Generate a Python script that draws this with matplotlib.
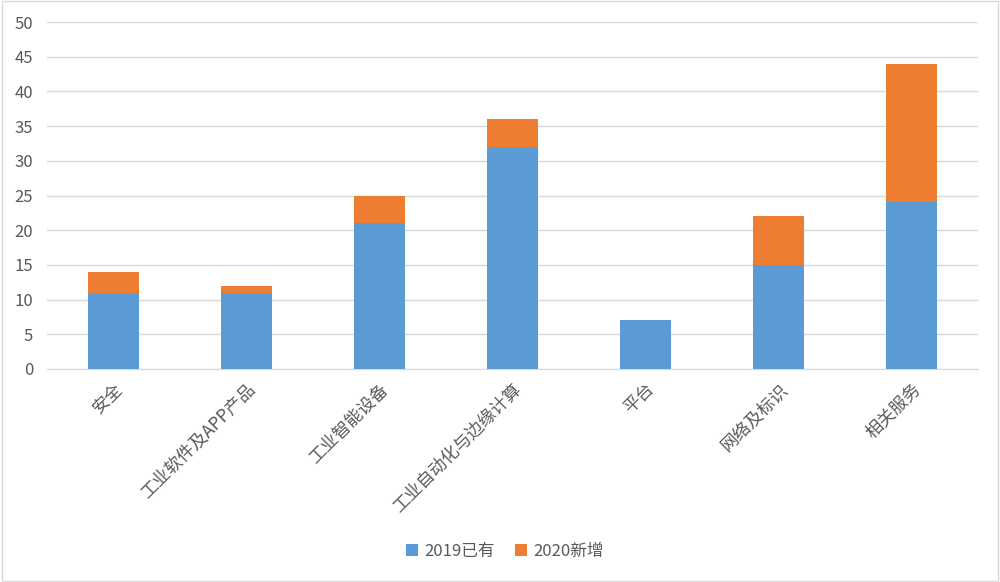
import matplotlib
matplotlib.use("Agg")
import matplotlib.pyplot as plt
from matplotlib.patches import Rectangle

plt.rcParams['font.family'] = ['Noto Sans CJK SC', 'DejaVu Sans']

categories = ["安全", "工业软件及APP产品", "工业智能设备", "工业自动化与边缘计算", "平台", "网络及标识", "相关服务"]
existing_2019 = [11, 11, 21, 32, 7, 15, 24]
new_2020 = [3, 1, 4, 4, 0, 7, 20]
yticks = [0, 5, 10, 15, 20, 25, 30, 35, 40, 45, 50]

fig = plt.figure(figsize=(10, 5.82), dpi=100)
ax = fig.add_axes([0.047, 0.366, 0.931, 0.596])

x = list(range(len(categories)))
w = 0.39
ax.bar(x, existing_2019, width=w, color='#5B9BD5', label='2019已有', zorder=3)
ax.bar(x, new_2020, width=w, bottom=existing_2019, color='#ED7D31', label='2020新增', zorder=3)

ax.set_xlim(-0.5, len(categories) - 0.5)
ax.set_ylim(0, 50)
ax.set_yticks(yticks)
ax.yaxis.grid(True, color='#D9D9D9', linewidth=1, zorder=0)
for s in ['top', 'right', 'left']:
    ax.spines[s].set_visible(False)
ax.spines['bottom'].set_color('#D9D9D9')
ax.tick_params(axis='both', length=0, colors='#595959', labelsize=12)
ax.tick_params(axis='y', pad=10)
ax.set_xticks(x)
ax.set_xticklabels(categories, rotation=45, ha='right', rotation_mode='anchor', fontsize=12.5, color='#595959')
ax.tick_params(axis='x', pad=8)

leg = fig.legend(loc='center', bbox_to_anchor=(0.505, 0.053), ncol=2, frameon=False,
                 fontsize=12, handlelength=0.7, handleheight=0.7, columnspacing=1.2, handletextpad=0.4)
for t in leg.get_texts():
    t.set_color('#595959')

fig.patches.append(Rectangle((0.002, 0.002), 0.996, 0.996, transform=fig.transFigure,
                             fill=False, edgecolor='#D9D9D9', linewidth=1))
fig.savefig('out.png', dpi=100)
